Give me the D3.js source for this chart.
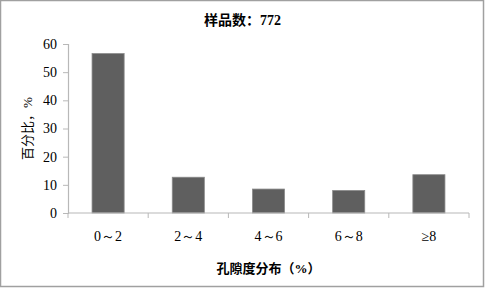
<!DOCTYPE html>
<html>
<head>
<meta charset="utf-8">
<script src="https://d3js.org/d3.v7.min.js"></script>
<style>
  body { margin: 0; background: #fff; }
</style>
</head>
<body>
<div id="chart"></div>
<script>
// data
const categories = ["0～2", "2～4", "4～6", "6～8", "≥8"];
const percents = [56.6, 12.7, 8.5, 8.0, 13.6];
const yTicks = [0, 10, 20, 30, 40, 50, 60];
const titleText = "样品数：772";
const yLabel = "百分比，%";
const xLabel = "孔隙度分布（%）";

const serif = "'Liberation Serif', 'Times New Roman', serif";
const cjk = "'Liberation Serif', 'Noto Sans CJK SC', serif";

const W = 485, H = 288;
const margin = {top: 44, right: 16, bottom: 75, left: 68};
const width = W - margin.left - margin.right;
const height = H - margin.top - margin.bottom;

const svg = d3.select("#chart").append("svg")
  .attr("width", W).attr("height", H);

// outer frame
svg.append("rect")
  .attr("x", 0.5).attr("y", 0.5)
  .attr("width", W - 2).attr("height", H - 2)
  .attr("fill", "#fff").attr("stroke", "#a0a0a0").attr("stroke-width", 1.5);

const g = svg.append("g").attr("transform", `translate(${margin.left},${margin.top})`);

const x = d3.scaleBand().domain(categories).range([0, width]).paddingInner(0.6).paddingOuter(0.3);
const y = d3.scaleLinear().domain([0, 60]).range([height, 0]);

// bars
g.selectAll(".bar").data(percents).enter().append("rect")
  .attr("class", "bar")
  .attr("x", (d, i) => x(categories[i]))
  .attr("y", d => y(d))
  .attr("width", x.bandwidth())
  .attr("height", d => height - y(d))
  .attr("fill", "#5f5f5f")
  .attr("stroke", "#8a8a8a").attr("stroke-width", 0.8);

// y axis
const yAxis = g.append("g").call(d3.axisLeft(y).tickValues(yTicks).tickSize(5).tickPadding(6));
yAxis.attr("font-family", null).attr("font-size", null);
yAxis.select(".domain").attr("stroke", "#b8b8b8").attr("stroke-width", 1.2);
yAxis.selectAll(".tick line").attr("stroke", "#b8b8b8");
yAxis.selectAll(".tick text")
  .style("font-family", serif).style("font-size", "14px").attr("fill", "#000");

// x axis: ticks at category boundaries
const xAxis = g.append("g").attr("transform", `translate(0,${height})`);
xAxis.append("line").attr("x1", 0).attr("x2", width).attr("y1", 0).attr("y2", 0)
  .attr("stroke", "#b8b8b8").attr("stroke-width", 1.2);
xAxis.selectAll(".xt").data(d3.range(categories.length + 1)).enter().append("line")
  .attr("x1", i => i * width / categories.length).attr("x2", i => i * width / categories.length)
  .attr("y1", 0).attr("y2", 5).attr("stroke", "#b8b8b8");
xAxis.selectAll(".xl").data(categories).enter().append("text")
  .attr("x", d => x(d) + x.bandwidth() / 2)
  .attr("y", 28)
  .attr("text-anchor", "middle")
  .style("font-family", serif)
  .style("font-size", "14px")
  .text(d => d);

// titles
svg.append("text")
  .attr("x", W / 2).attr("y", 25).attr("text-anchor", "middle")
  .style("font-family", cjk)
  .style("font-size", "14px").style("font-weight", "bold")
  .text(titleText);

svg.append("text")
  .attr("transform", `translate(32,${margin.top + height / 2}) rotate(-90)`)
  .attr("text-anchor", "middle")
  .style("font-family", cjk)
  .style("font-size", "13px")
  .text(yLabel);

svg.append("text")
  .attr("x", margin.left + width / 2).attr("y", 273).attr("text-anchor", "middle")
  .style("font-family", cjk)
  .style("font-size", "13px").style("font-weight", "bold")
  .text(xLabel);
</script>
</body>
</html>
